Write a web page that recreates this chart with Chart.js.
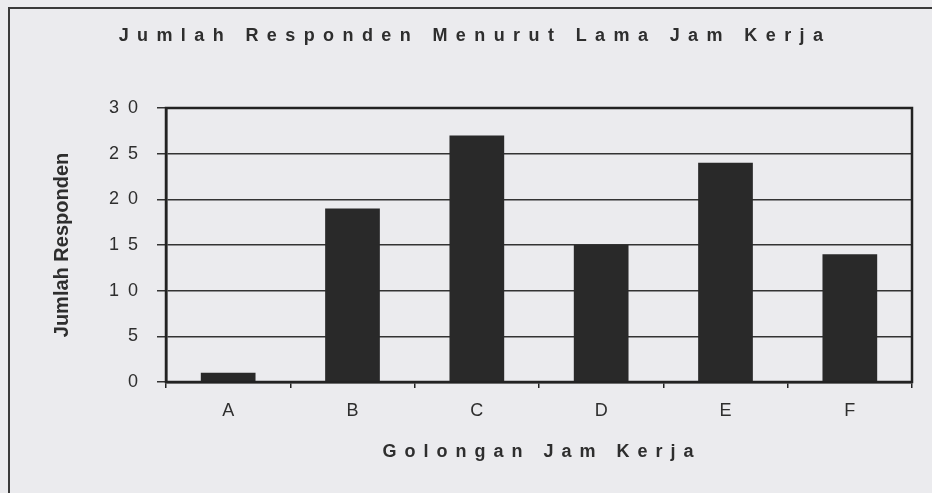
<!DOCTYPE html>
<html>
<head>
<meta charset="utf-8">
<script src="https://cdn.jsdelivr.net/npm/chart.js@4.4.1/dist/chart.umd.min.js"></script>
<style>
  body { margin: 0; background: #ebebee; }
  #wrap { width: 932px; height: 493px; position: relative; }
</style>
</head>
<body>
<div id="wrap"><canvas id="chart"></canvas></div>
<script>
// data
const categories = ['A', 'B', 'C', 'D', 'E', 'F'];
const respondents = [1, 19, 27, 15, 24, 14];
const yTicks = [0, 5, 10, 15, 20, 25, 30];

const chartTitle = 'Jumlah Responden Menurut Lama Jam Kerja';
const xTitle = 'Golongan Jam Kerja';
const yTitle = 'Jumlah Responden';

const ink = '#2e2e2e';
const fam = '"Liberation Sans", Arial, sans-serif';

// paper frame, plot box and the letter-spaced titles
const scanLook = {
  id: 'scanLook',
  beforeDraw(chart) {
    const ctx = chart.ctx;
    ctx.save();
    ctx.strokeStyle = '#3a3a3a';
    ctx.lineWidth = 2;
    ctx.beginPath();
    ctx.moveTo(9, 493);
    ctx.lineTo(9, 8);
    ctx.lineTo(932, 8);
    ctx.stroke();
    ctx.restore();
  },
  afterDraw(chart) {
    const { ctx, chartArea: a } = chart;
    ctx.save();
    ctx.strokeStyle = '#222';
    ctx.lineWidth = 2.5;
    ctx.strokeRect(a.left, a.top, a.right - a.left, a.bottom - a.top);

    ctx.fillStyle = ink;
    ctx.textAlign = 'center';
    ctx.textBaseline = 'middle';
    ctx.font = 'bold 18px ' + fam;
    ctx.letterSpacing = '8.4px';
    ctx.fillText(chartTitle, 471 + 4, 36);

    ctx.letterSpacing = '8px';
    ctx.fillText(xTitle, 538 + 4, 452);
    ctx.restore();
  }
};

new Chart(document.getElementById('chart'), {
  type: 'bar',
  data: {
    labels: categories,
    datasets: [{
      label: yTitle,
      data: respondents,
      backgroundColor: '#292929',
      borderWidth: 0,
      barPercentage: 0.44,
      categoryPercentage: 1
    }]
  },
  options: {
    responsive: true,
    maintainAspectRatio: false,
    animation: false,
    layout: { padding: { left: 46, top: 108, right: 20, bottom: 0 } },
    plugins: {
      legend: { display: false },
      title: { display: false },
      tooltip: { enabled: false }
    },
    scales: {
      x: {
        afterFit(scale) { scale.height = 111; },
        grid: {
          drawOnChartArea: false,
          offset: true,
          tickLength: 6,
          color: '#222',
          lineWidth: 1.5
        },
        border: { color: '#222', width: 2.5 },
        ticks: {
          color: ink,
          padding: 12,
          font: { family: fam, size: 18 }
        }
      },
      y: {
        min: 0,
        max: 30,
        afterFit(scale) { scale.width = 120; },
        afterBuildTicks(scale) { scale.ticks = yTicks.map(v => ({ value: v })); },
        grid: {
          color: '#333',
          lineWidth: 1.5,
          tickLength: 9
        },
        border: { color: '#222', width: 2.5 },
        ticks: {
          color: ink,
          padding: 19,
          font: { family: fam, size: 18 },
          callback: v => String(v).split('').join('\u2002')
        },
        title: {
          display: true,
          text: yTitle,
          color: ink,
          padding: { top: 4, bottom: 0 },
          font: { family: fam, size: 20, weight: 'bold' }
        }
      }
    }
  },
  plugins: [scanLook]
});
</script>
</body>
</html>
